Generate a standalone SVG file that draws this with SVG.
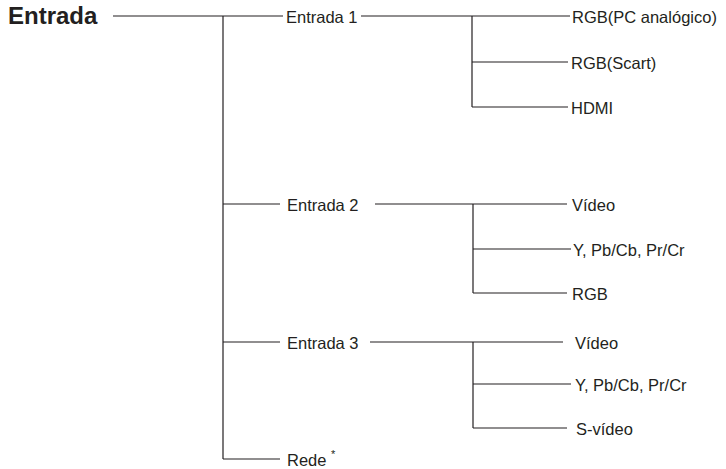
<svg xmlns="http://www.w3.org/2000/svg" width="726" height="469" viewBox="0 0 726 469">
<style>
.t{font-family:"Liberation Sans",Arial,sans-serif;font-size:16.5px;fill:#231f20}
.b{font-family:"Liberation Sans",Arial,sans-serif;font-size:24px;font-weight:bold;fill:#231f20}
.c line{stroke:#231f20;stroke-width:1.2}
</style>
<rect width="726" height="469" fill="#fff"/>
<g class="c" id="connectors">
<line x1="113" y1="16" x2="283" y2="16"/>
<line x1="223" y1="16" x2="223" y2="459"/>
<line x1="361" y1="16" x2="570" y2="16"/>
<line x1="472" y1="16" x2="472" y2="107"/>
<line x1="472" y1="62" x2="568" y2="62"/>
<line x1="472" y1="107" x2="568" y2="107"/>
<line x1="223" y1="204" x2="280" y2="204"/>
<line x1="375" y1="204" x2="567" y2="204"/>
<line x1="473" y1="204" x2="473" y2="293"/>
<line x1="473" y1="249" x2="571" y2="249"/>
<line x1="473" y1="293" x2="567" y2="293"/>
<line x1="223" y1="342" x2="280" y2="342"/>
<line x1="370" y1="342" x2="563" y2="342"/>
<line x1="473" y1="342" x2="473" y2="428"/>
<line x1="473" y1="384" x2="571" y2="384"/>
<line x1="473" y1="428" x2="567" y2="428"/>
<line x1="223" y1="459" x2="280" y2="459"/>
</g>
<g id="root"><text class="b" x="8" y="24">Entrada</text></g>
<g id="entrada1"><text class="t" x="286" y="23">Entrada 1</text></g>
<g id="rgbpc"><text class="t" x="572" y="23">RGB(PC analógico)</text></g>
<g id="rgbscart"><text class="t" x="571" y="69">RGB(Scart)</text></g>
<g id="hdmi"><text class="t" x="571" y="114">HDMI</text></g>
<g id="entrada2"><text class="t" x="287" y="211">Entrada 2</text></g>
<g id="video2"><text class="t" x="572" y="211">Vídeo</text></g>
<g id="ypb2"><text class="t" x="573" y="256">Y, Pb/Cb, Pr/Cr</text></g>
<g id="rgb2"><text class="t" x="572" y="300">RGB</text></g>
<g id="entrada3"><text class="t" x="287" y="349">Entrada 3</text></g>
<g id="video3"><text class="t" x="575" y="349">Vídeo</text></g>
<g id="ypb3"><text class="t" x="575" y="391">Y, Pb/Cb, Pr/Cr</text></g>
<g id="svideo"><text class="t" x="576" y="435">S-vídeo</text></g>
<g id="rede"><text class="t" x="287" y="466">Rede <tspan font-size="11" dy="-8">*</tspan></text></g>
</svg>
